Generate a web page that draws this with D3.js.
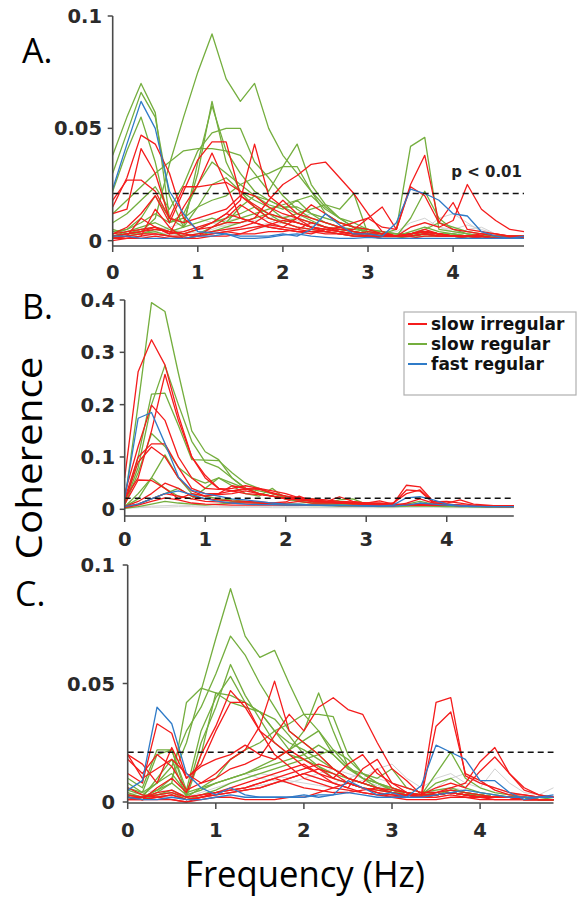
<!DOCTYPE html>
<html>
<head>
<meta charset="utf-8">
<script src="https://cdn.jsdelivr.net/npm/d3@7"></script>
<style>
  body { margin: 0; background: #fff; }
  svg { display: block; }
</style>
</head>
<body>
<svg id="chart"></svg>
<script>
// frequency grid (Hz), one point every 1/6 Hz
const freqs = [0, 0.167, 0.333, 0.5, 0.667, 0.833, 1, 1.167, 1.333, 1.5, 1.667, 1.833, 2, 2.167, 2.333,
  2.5, 2.667, 2.833, 3, 3.167, 3.333, 3.5, 3.667, 3.833, 4, 4.167, 4.333, 4.5, 4.667, 4.833];

// coherence values are written in thousandths (12 = 0.012)
const threshold = 21; // p < 0.01

const xTicks = [0, 1, 2, 3, 4];
const yTicksSmall = [0, 50, 100];
const yLabelsSmall = ["0", "0.05", "0.1"];
const yTicksB = [0, 100, 200, 300, 400];
const yLabelsB = ["0", "0.1", "0.2", "0.3", "0.4"];

const legendLabels = ["slow irregular", "slow regular", "fast regular"];

// ---------- panel A ----------
const grayA = [
  [2,3,4,6,5,4,6,8,9,10,8,6,8,10,12,10,8,6,5,4,3,6,8,6,5,7,5,3,2,2],
  [1,2,3,4,6,8,10,8,6,5,6,8,10,8,6,5,4,3,3,2,2,4,5,10,12,8,4,3,2,2],
  [3,4,5,4,3,2,3,5,7,8,9,10,11,9,7,6,5,4,3,3,4,8,10,6,4,3,3,2,2,2],
  [1,1,2,2,3,3,4,4,5,5,6,6,5,5,4,4,3,3,2,2,2,3,4,3,2,5,6,3,2,1]
];
const greenA = [
  [5,3,4,10,34,55,75,92,72,62,70,50,38,30,22,15,10,6,4,3,2,2,2,2,2,1,1,1,1,1],
  [38,55,70,57,10,8,30,62,35,22,15,12,10,8,6,5,4,3,3,2,2,3,4,3,2,2,1,1,1,1],
  [30,48,66,55,20,6,35,60,40,30,22,18,15,12,9,6,5,4,3,2,2,2,3,2,2,1,1,1,1,1],
  [22,40,55,35,8,12,25,35,30,25,20,18,15,15,12,10,8,6,5,4,3,3,3,3,2,2,2,2,1,1],
  [8,12,18,24,14,25,40,48,50,50,35,28,20,14,10,8,6,5,4,3,3,3,4,3,3,2,2,2,2,2],
  [12,18,24,30,35,40,41,41,40,38,30,22,33,33,22,12,8,6,5,4,3,3,4,3,3,2,2,2,2,2],
  [3,5,8,12,8,10,15,18,20,25,28,30,33,43,25,16,14,21,3,2,2,3,4,3,2,2,2,1,1,1],
  [2,4,6,8,5,3,5,8,10,12,15,10,8,10,8,6,5,4,3,3,5,42,46,5,4,3,2,2,2,1],
  [1,3,5,6,4,2,3,6,8,10,12,14,16,18,20,14,10,8,5,3,2,10,22,10,5,3,2,2,2,1],
  [4,5,10,20,10,6,15,25,28,22,18,15,10,12,14,16,10,6,3,2,2,4,6,4,3,2,2,2,1,1],
  [2,3,3,5,4,6,8,10,8,15,20,16,14,18,12,8,6,4,3,2,2,3,5,8,6,4,3,2,2,2],
  [1,2,3,4,2,1,2,4,6,8,10,12,8,6,5,4,3,2,2,1,1,2,3,2,2,1,1,1,1,1]
];
const redA = [
  [15,28,47,43,30,10,5,8,12,10,8,6,5,4,4,3,3,2,2,2,2,3,4,3,2,2,2,1,1,1],
  [12,14,41,30,10,8,10,12,14,20,16,12,10,8,6,5,4,3,3,2,2,2,3,2,2,2,1,1,1,1],
  [18,27,27,22,10,24,24,25,26,22,20,15,12,10,8,6,5,4,3,3,2,3,4,3,2,2,2,1,1,1],
  [3,6,12,20,8,22,36,44,44,20,15,10,8,6,5,4,3,3,2,2,2,3,5,3,2,2,2,1,1,1],
  [2,3,4,6,3,4,6,8,12,18,43,20,15,10,6,4,3,2,2,2,2,3,4,3,2,2,2,1,1,1],
  [1,2,10,6,3,15,25,39,25,10,8,12,18,12,10,8,6,4,3,2,2,2,3,2,2,2,1,1,1,1],
  [2,3,4,5,4,3,5,6,8,8,10,18,25,29,34,35,28,21,12,4,2,3,4,3,2,2,2,1,1,1],
  [1,2,3,3,2,2,3,4,5,6,8,6,5,4,3,5,6,8,10,6,5,25,38,8,5,4,3,2,2,2],
  [1,1,2,3,2,1,2,3,4,3,5,7,9,8,6,5,4,3,4,3,2,6,8,6,9,25,14,9,5,4],
  [3,4,5,6,4,3,2,3,4,5,6,7,6,5,4,4,5,5,10,15,5,24,20,8,17,5,4,3,2,2],
  [0,1,2,14,6,1,2,6,10,16,12,8,6,10,16,12,8,6,5,3,2,2,3,3,2,2,3,3,2,2],
  [1,1,1,2,1,1,1,2,2,3,3,4,4,5,8,6,4,3,2,1,1,1,2,2,2,1,1,1,1,1]
];
const blueA = [
  [23,43,62,50,22,12,4,3.5,3,1,1,1.5,2.5,3,2,1.5,1,1,1.5,1,1,1,1,1,1,1,1,1,1,1],
  [2,2,1,1,1,1,2,2,3,2,2,2,3,2,5,12,7,3,3,2,8,23,21,18,12,11,4,2,1,2]
];

// ---------- panel B ----------
const grayB = [
  [3,5,6,7,8,7,6,6,5,5,5,5,5,5,4,4,4,4,4,4,4,5,5,5,4,4,4,4,4,4],
  [2,3,4,4,5,5,4,4,4,4,4,3,3,3,3,3,3,3,3,3,3,4,4,4,3,3,3,3,3,3]
];
const greenB = [
  [15,200,395,378,260,150,110,95,60,40,30,25,20,18,20,15,12,10,10,10,9,9,8,8,8,7,7,6,6,6],
  [10,80,200,275,200,130,90,80,60,40,35,30,25,20,15,12,10,10,9,9,8,8,8,7,7,6,6,6,6,5],
  [10,100,220,222,160,95,94,93,70,50,40,30,22,18,15,12,10,10,9,9,8,8,8,7,7,6,6,6,6,5],
  [8,70,145,120,80,60,50,60,50,40,30,25,20,15,12,10,10,9,9,8,8,8,8,7,7,6,6,6,6,5],
  [5,20,60,104,60,30,25,20,18,15,12,10,10,9,9,8,8,8,7,7,6,6,6,6,5,5,5,5,5,5],
  [5,30,60,40,25,20,40,60,45,30,25,40,20,15,12,12,18,20,10,9,8,8,8,7,7,6,6,6,5,5],
  [3,10,20,30,40,25,20,18,15,14,12,12,10,10,9,9,8,8,7,7,6,10,15,10,8,6,5,5,5,5],
  [2,5,10,15,12,10,8,10,12,14,12,10,8,8,7,7,6,6,6,5,5,6,12,8,6,5,5,4,4,4]
];
const redB = [
  [60,263,324,276,180,100,60,40,35,30,28,25,22,20,18,15,12,12,10,10,9,9,8,8,8,7,7,6,6,6],
  [20,60,150,258,170,100,65,40,35,38,40,35,30,22,18,15,12,12,10,10,9,9,8,8,8,7,7,6,6,6],
  [30,120,199,170,100,60,40,38,40,45,40,30,25,22,20,18,15,14,12,12,10,10,9,9,8,8,7,7,6,6],
  [20,100,125,125,80,40,30,30,35,40,38,32,25,20,15,14,12,12,10,10,9,9,8,8,8,7,7,6,6,6],
  [15,90,119,100,60,35,25,28,30,35,30,25,20,18,15,14,12,12,10,10,9,9,8,8,8,7,7,6,6,6],
  [10,56,55,40,20,30,25,30,45,40,30,25,20,18,16,15,14,12,12,10,10,37,35,12,10,8,7,6,6,6],
  [5,15,30,50,40,25,20,18,16,15,14,12,14,25,15,14,24,15,12,16,10,46,43,15,12,18,10,8,6,6],
  [5,10,20,30,25,20,15,14,12,12,12,10,12,15,12,12,12,10,10,10,12,30,37,14,15,12,8,6,5,5],
  [3,8,15,22,18,12,10,9,8,8,8,8,8,8,8,8,7,7,7,7,6,12,20,12,10,8,6,5,5,5]
];
const blueB = [
  [20,174,185,126,62,36,30,25,20,18,15,12,10,10,8,8,8,7,7,6,6,8,12,10,8,6,5,5,5,5],
  [5,10,20,30,35,28,20,15,12,10,9,9,8,8,8,7,7,7,6,6,8,22,24,18,10,7,6,5,5,5]
];

// ---------- panel C ----------
const grayC = [
  [3,4,5,4,3,5,8,10,12,10,9,8,10,12,14,12,10,14,16,10,6,10,12,8,6,14,8,4,3,6],
  [2,3,3,2,2,4,6,8,10,12,11,10,12,10,8,10,12,10,8,6,4,6,10,12,8,6,4,3,2,2],
  [1,2,2,2,1,2,4,5,6,7,8,9,8,7,6,8,9,7,5,4,3,5,6,5,4,3,2,2,2,2]
];
const greenC = [
  [3,2,5,10,25,47,69,90,70,61,64,50,37,30,22,15,10,6,4,3,2,3,4,3,2,2,2,1,1,1],
  [5,3,8,15,30,40,54,70,62,50,40,30,25,20,14,10,8,6,4,3,3,4,5,4,3,2,2,2,1,1],
  [8,4,20,22,3,25,40,58,45,35,25,20,18,15,12,10,8,6,5,4,3,3,4,3,3,2,2,2,1,1],
  [10,6,22,22,5,30,44,53,42,38,30,25,22,18,14,10,8,6,4,3,3,3,4,3,3,2,2,2,1,1],
  [2,1,4,8,42,48,46,42,40,38,35,28,20,15,10,8,6,5,4,3,3,3,4,3,3,2,2,2,1,1],
  [4,2,10,18,2,20,46,45,42,38,30,22,30,46,30,15,10,8,5,4,3,3,4,3,3,2,2,2,1,1],
  [1,2,3,5,2,6,10,18,22,25,30,33,37,37,36,20,12,8,5,3,2,3,5,4,3,2,2,2,1,1],
  [3,2,5,8,3,5,8,10,12,14,16,18,20,24,20,14,10,8,6,4,3,12,21,10,6,4,3,2,2,1],
  [2,1,3,4,1,3,5,8,10,12,14,16,18,20,22,18,12,8,6,4,3,8,10,6,4,3,2,2,1,1],
  [6,4,8,12,4,6,8,10,12,15,18,22,26,30,20,14,12,10,14,6,4,5,6,4,3,2,2,2,1,1]
];
const redC = [
  [20,10,14,18,12,8,10,14,16,19,28,37,30,40,44,39,37,25,14,9,3,3,4,3,2,2,2,1,1,1],
  [18,12,20,15,5,8,12,18,22,32,51,30,25,20,14,10,8,6,5,4,3,3,4,3,2,2,2,1,1,1],
  [2,1,6,10,4,20,32,47,40,30,25,20,15,12,10,8,6,4,3,3,2,3,4,3,2,2,2,1,1,1],
  [12,8,33,29,10,16,30,42,42,30,20,15,10,8,6,5,4,3,3,2,2,3,4,3,2,2,2,1,1,1],
  [1,1,2,3,1,2,3,4,5,6,8,10,12,10,8,6,4,3,2,3,3,42,44,11,8,6,4,3,2,2],
  [2,2,3,4,2,3,4,5,6,8,10,8,6,5,4,4,5,6,4,3,2,32,38,12,9,5,3,3,2,2],
  [1,1,2,3,1,2,3,4,5,6,8,10,12,14,12,8,6,5,4,3,2,4,6,8,17,23,12,6,3,2],
  [3,2,4,5,2,3,4,5,6,8,10,12,14,16,14,10,8,14,6,4,3,6,8,6,13,19,12,5,3,2],
  [20,16,8,23,10,15,18,20,24,20,18,22,18,14,10,16,20,12,8,6,4,4,5,4,3,2,2,2,1,1],
  [6,3,2,1,0,2,4,6,8,10,12,14,16,12,8,6,14,18,8,4,2,2,3,2,2,1,1,1,1,1],
  [2,1,1,1,0,1,2,2,1,1,1,2,2,4,6,8,6,4,2,1,1,1,2,2,1,1,1,1,1,1]
];
const blueC = [
  [5,9,40,33,12,6,3,6,3,2,2,2,3,2,3,9,6,3,4,2,7,24,21,18,9,9,4,1,2,3],
  [2,1,1,2,1,1,2,3,2,2,2,2,2,3,3,4,3,2,2,2,2,3,4,5,4,3,2,2,2,2]
];

// ---------- layout ----------
const width = 579, height = 897;
const colors = { gray: "#d2d2d2", green: "#74ae3e", red: "#f41c1c", blue: "#2f7bc8" };

const panels = [
  { label: "A.", labelX: 22, labelY: 63, left: 112.7, right: 524, zeroY: 240.7, topY: 16, yMax: 100, axisY: 246,
    yTicks: yTicksSmall, yLabels: yLabelsSmall, yLabelX: 102, xLabelY: 279,
    series: { gray: grayA, green: greenA, red: redA, blue: blueA } },
  { label: "B.", labelX: 22, labelY: 319, left: 124.7, right: 513.8, zeroY: 509.3, topY: 300, yMax: 400, axisY: 516,
    yTicks: yTicksB, yLabels: yLabelsB, yLabelX: 115, xLabelY: 546,
    series: { gray: grayB, green: greenB, red: redB, blue: blueB } },
  { label: "C.", labelX: 15, labelY: 606, left: 127.7, right: 553.5, zeroY: 802, topY: 565, yMax: 100, axisY: 803,
    yTicks: yTicksSmall, yLabels: yLabelsSmall, yLabelX: 115, xLabelY: 837,
    series: { gray: grayC, green: greenC, red: redC, blue: blueC } }
];

const svg = d3.select("#chart").attr("width", width).attr("height", height);

const tickFont = "'DejaVu Sans', sans-serif";
const axisColor = "#4a4a4a";

panels.forEach(p => {
  const x = d3.scaleLinear().domain([0, freqs[freqs.length - 1]]).range([p.left, p.right]);
  const y = d3.scaleLinear().domain([0, p.yMax]).range([p.zeroY, p.topY]);
  const g = svg.append("g");

  const line = d3.line()
    .x((d, i) => x(freqs[i]))
    .y(d => y(d));

  // lines, grey first so coloured ones sit on top
  ["gray", "green", "red", "blue"].forEach(key => {
    g.append("g")
      .selectAll("path")
      .data(p.series[key])
      .join("path")
      .attr("d", line)
      .attr("fill", "none")
      .attr("stroke", colors[key])
      .attr("stroke-width", key === "gray" ? 1 : 1.3)
      .attr("stroke-linejoin", "round");
  });

  // significance threshold
  g.append("line")
    .attr("x1", p.left).attr("x2", p.right)
    .attr("y1", y(threshold)).attr("y2", y(threshold))
    .attr("stroke", "#111")
    .attr("stroke-width", 1.5)
    .attr("stroke-dasharray", "6 4");

  // axes (drawn by hand, matlab-ish look)
  g.append("line")
    .attr("x1", p.left).attr("x2", p.left)
    .attr("y1", y(p.yMax)).attr("y2", p.axisY)
    .attr("stroke", axisColor).attr("stroke-width", 1.6);
  g.append("line")
    .attr("x1", p.left).attr("x2", p.right)
    .attr("y1", p.axisY).attr("y2", p.axisY)
    .attr("stroke", axisColor).attr("stroke-width", 1.6);

  g.selectAll(".ytick")
    .data(p.yTicks)
    .join("line")
    .attr("class", "ytick")
    .attr("x1", p.left - 5).attr("x2", p.left)
    .attr("y1", d => y(d)).attr("y2", d => y(d))
    .attr("stroke", axisColor).attr("stroke-width", 1.5);

  g.selectAll(".ylab")
    .data(p.yTicks)
    .join("text")
    .attr("class", "ylab")
    .attr("x", p.yLabelX)
    .attr("y", d => y(d))
    .attr("dy", "0.36em")
    .attr("text-anchor", "end")
    .attr("font-family", tickFont)
    .attr("font-weight", "bold")
    .attr("font-size", 19.5)
    .attr("fill", "#2a2a2a")
    .text((d, i) => p.yLabels[i]);

  g.selectAll(".xtick")
    .data(xTicks)
    .join("line")
    .attr("class", "xtick")
    .attr("x1", d => x(d)).attr("x2", d => x(d))
    .attr("y1", p.axisY).attr("y2", p.axisY + 6)
    .attr("stroke", axisColor).attr("stroke-width", 1.5);

  g.selectAll(".xlab")
    .data(xTicks)
    .join("text")
    .attr("class", "xlab")
    .attr("x", d => x(d))
    .attr("y", p.xLabelY)
    .attr("text-anchor", "middle")
    .attr("font-family", tickFont)
    .attr("font-weight", "bold")
    .attr("font-size", 19.5)
    .attr("fill", "#2a2a2a")
    .text(d => d);

  // panel letter
  svg.append("text")
    .attr("x", p.labelX)
    .attr("y", p.labelY)
    .attr("font-family", "'Open Sans', sans-serif")
    .attr("font-size", 34)
    .attr("fill", "#000")
    .text(p.label);
});

// p-value note on panel A
svg.append("text")
  .attr("x", 522)
  .attr("y", 177)
  .attr("text-anchor", "end")
  .attr("font-family", tickFont)
  .attr("font-weight", "bold")
  .attr("font-size", 15)
  .attr("fill", "#222")
  .text("p < 0.01");

// legend in panel B
const legend = svg.append("g");
legend.append("rect")
  .attr("x", 404).attr("y", 312)
  .attr("width", 172).attr("height", 83)
  .attr("fill", "#fff")
  .attr("stroke", "#b0b0b0")
  .attr("stroke-width", 1.2);
const legendColors = [colors.red, colors.green, colors.blue];
legendLabels.forEach((name, i) => {
  const ly = 324 + i * 20;
  legend.append("line")
    .attr("x1", 408).attr("x2", 427)
    .attr("y1", ly).attr("y2", ly)
    .attr("stroke", legendColors[i])
    .attr("stroke-width", 2);
  legend.append("text")
    .attr("x", 431)
    .attr("y", ly + 6)
    .attr("font-family", tickFont)
    .attr("font-weight", "bold")
    .attr("font-size", 17)
    .attr("fill", "#111")
    .text(name);
});

// shared axis titles
svg.append("text")
  .attr("transform", "translate(42,458) rotate(-90)")
  .attr("text-anchor", "middle")
  .attr("font-family", "'Open Sans', sans-serif")
  .attr("font-size", 37)
  .attr("textLength", 203)
  .attr("lengthAdjust", "spacingAndGlyphs")
  .attr("fill", "#000")
  .text("Coherence");

svg.append("text")
  .attr("x", 305)
  .attr("y", 887)
  .attr("text-anchor", "middle")
  .attr("font-family", "'Open Sans', sans-serif")
  .attr("font-size", 36)
  .attr("textLength", 240)
  .attr("lengthAdjust", "spacingAndGlyphs")
  .attr("fill", "#000")
  .text("Frequency (Hz)");
</script>
</body>
</html>
